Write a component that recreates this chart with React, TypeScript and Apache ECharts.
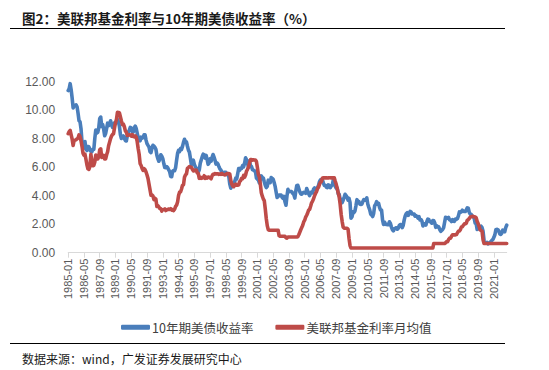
import React, { useEffect, useRef } from "react";
import * as echarts from "echarts";

// Month categories 1985-01 .. 2022-02
const startYear = 1985;
const endYear = 2022;
const endMonth = 2;
const months: string[] = [];
for (let y = startYear; y <= endYear; y++) {
  for (let m = 1; m <= 12; m++) {
    if (y === endYear && m > endMonth) break;
    months.push(`${y}-${m < 10 ? "0" + m : m}`);
  }
}

const titleText = "图2：美联邦基金利率与10年期美债收益率（%）";
const sourceText = "数据来源：wind，广发证券发展研究中心";
const seriesNames = ["10年期美债收益率", "美联邦基金利率月均值"];
const yTicks = [0, 2, 4, 6, 8, 10, 12];

// 10-year treasury yield, monthly
const tenYear: number[] = [
  11.38, 11.51, 11.86, 11.43, 10.85, 10.16, 10.31, 10.33, 10.37, 10.24, 9.78, 9.26,
  9.19, 8.70, 7.78, 7.30, 7.71, 7.80, 7.30, 7.17, 7.45, 7.43, 7.25, 7.11,
  7.08, 7.25, 7.25, 8.02, 8.61, 8.40, 8.45, 8.76, 9.42, 9.52, 8.86, 8.99,
  8.67, 8.21, 8.37, 8.72, 9.09, 8.92, 9.06, 9.26, 8.98, 8.80, 8.96, 9.11,
  9.09, 9.17, 9.36, 9.18, 8.86, 8.28, 8.02, 8.11, 8.19, 8.01, 7.87, 7.84,
  8.21, 8.47, 8.59, 8.79, 8.76, 8.48, 8.47, 8.75, 8.89, 8.72, 8.39, 8.08,
  8.09, 7.85, 8.11, 8.04, 8.07, 8.28, 8.27, 7.90, 7.65, 7.53, 7.42, 7.09,
  7.03, 7.34, 7.54, 7.48, 7.39, 7.26, 6.84, 6.59, 6.42, 6.59, 6.87, 6.77,
  6.60, 6.26, 5.98, 5.97, 6.04, 5.96, 5.81, 5.68, 5.36, 5.33, 5.72, 5.77,
  5.75, 5.97, 6.48, 6.97, 7.18, 7.10, 7.30, 7.24, 7.46, 7.74, 7.96, 7.81,
  7.78, 7.47, 7.20, 7.06, 6.63, 6.17, 6.28, 6.49, 6.20, 6.04, 5.93, 5.71,
  5.65, 5.81, 6.27, 6.51, 6.74, 6.91, 6.87, 6.64, 6.83, 6.53, 6.20, 6.30,
  6.58, 6.42, 6.69, 6.89, 6.71, 6.49, 6.22, 6.30, 6.21, 6.03, 5.88, 5.81,
  5.54, 5.57, 5.65, 5.64, 5.65, 5.50, 5.46, 5.34, 4.81, 4.53, 4.83, 4.65,
  4.72, 5.00, 5.23, 5.18, 5.54, 5.90, 5.79, 5.94, 5.92, 6.11, 6.03, 6.28,
  6.66, 6.52, 6.26, 5.99, 6.44, 6.10, 6.05, 5.83, 5.80, 5.74, 5.72, 5.24,
  5.16, 5.10, 4.89, 5.14, 5.39, 5.28, 5.24, 4.97, 4.73, 4.57, 4.65, 5.09,
  5.04, 4.91, 5.28, 5.21, 5.16, 4.93, 4.65, 4.26, 3.87, 3.94, 4.05, 4.03,
  4.05, 3.90, 3.81, 3.96, 3.57, 3.33, 3.98, 4.45, 4.27, 4.29, 4.30, 4.27,
  4.15, 4.08, 3.83, 4.35, 4.72, 4.73, 4.50, 4.28, 4.13, 4.10, 4.19, 4.23,
  4.22, 4.17, 4.50, 4.34, 4.14, 4.00, 4.18, 4.26, 4.20, 4.46, 4.54, 4.47,
  4.42, 4.57, 4.72, 4.99, 5.11, 5.11, 5.09, 4.88, 4.72, 4.73, 4.60, 4.56,
  4.76, 4.72, 4.56, 4.69, 4.75, 5.10, 5.00, 4.67, 4.52, 4.53, 4.15, 4.10,
  3.74, 3.74, 3.51, 3.68, 3.88, 4.10, 4.01, 3.89, 3.69, 3.81, 3.53, 2.42,
  2.52, 2.87, 2.82, 2.93, 3.29, 3.72, 3.56, 3.59, 3.40, 3.39, 3.40, 3.59,
  3.73, 3.69, 3.73, 3.85, 3.42, 3.20, 3.01, 2.70, 2.65, 2.54, 2.76, 3.29,
  3.39, 3.58, 3.41, 3.46, 3.17, 3.00, 3.00, 2.30, 1.98, 2.15, 2.01, 1.98,
  1.97, 1.97, 2.17, 2.05, 1.80, 1.62, 1.53, 1.68, 1.72, 1.75, 1.65, 1.72,
  1.91, 1.98, 1.96, 1.76, 1.93, 2.30, 2.58, 2.74, 2.81, 2.62, 2.72, 2.90,
  2.86, 2.71, 2.72, 2.71, 2.56, 2.60, 2.54, 2.42, 2.53, 2.30, 2.33, 2.21,
  1.88, 1.98, 2.04, 1.94, 2.20, 2.36, 2.32, 2.17, 2.17, 2.07, 2.26, 2.24,
  2.09, 1.78, 1.89, 1.81, 1.81, 1.64, 1.50, 1.56, 1.63, 1.76, 2.14, 2.49,
  2.43, 2.42, 2.48, 2.30, 2.30, 2.19, 2.32, 2.21, 2.20, 2.36, 2.35, 2.40,
  2.58, 2.86, 2.84, 2.87, 2.98, 2.91, 2.89, 2.89, 3.00, 3.15, 3.12, 2.83,
  2.71, 2.68, 2.57, 2.53, 2.40, 2.07, 2.06, 1.63, 1.70, 1.71, 1.81, 1.86,
  1.76, 1.50, 0.87, 0.66, 0.67, 0.73, 0.62, 0.65, 0.68, 0.79, 0.87, 0.93,
  1.08, 1.26, 1.61, 1.64, 1.62, 1.52, 1.32, 1.28, 1.37, 1.58, 1.56, 1.47,
  1.76, 1.93,
];

// Fed funds rate, monthly average
const fedFunds: number[] = [
  8.35, 8.50, 8.58, 8.27, 7.97, 7.53, 7.88, 7.90, 7.92, 7.99, 8.05, 8.27,
  8.14, 7.86, 7.48, 6.99, 6.85, 6.92, 6.56, 6.17, 5.89, 5.85, 6.04, 6.91,
  6.43, 6.10, 6.13, 6.37, 6.85, 6.73, 6.58, 6.73, 7.22, 7.29, 6.69, 6.77,
  6.83, 6.58, 6.58, 6.87, 7.09, 7.51, 7.75, 8.01, 8.19, 8.30, 8.35, 8.76,
  9.12, 9.36, 9.85, 9.84, 9.81, 9.53, 9.24, 8.99, 9.02, 8.84, 8.55, 8.45,
  8.23, 8.24, 8.28, 8.26, 8.18, 8.29, 8.15, 8.13, 8.20, 8.11, 7.81, 7.31,
  6.91, 6.25, 6.12, 5.91, 5.78, 5.90, 5.82, 5.66, 5.45, 5.21, 4.81, 4.43,
  4.03, 4.06, 3.98, 3.73, 3.82, 3.76, 3.25, 3.30, 3.22, 3.10, 3.09, 2.92,
  3.02, 3.03, 3.07, 2.96, 3.00, 3.04, 3.06, 3.03, 3.09, 2.99, 3.02, 2.96,
  3.05, 3.25, 3.34, 3.56, 4.01, 4.25, 4.26, 4.47, 4.73, 4.76, 5.29, 5.45,
  5.53, 5.92, 5.98, 6.05, 6.01, 6.00, 5.85, 5.74, 5.80, 5.76, 5.80, 5.60,
  5.56, 5.22, 5.31, 5.22, 5.24, 5.27, 5.40, 5.22, 5.30, 5.24, 5.31, 5.29,
  5.25, 5.19, 5.39, 5.51, 5.50, 5.56, 5.52, 5.54, 5.54, 5.50, 5.52, 5.50,
  5.56, 5.51, 5.49, 5.45, 5.49, 5.56, 5.54, 5.55, 5.51, 5.07, 4.83, 4.68,
  4.63, 4.76, 4.81, 4.74, 4.74, 4.76, 4.99, 5.07, 5.22, 5.20, 5.42, 5.30,
  5.45, 5.73, 5.85, 6.02, 6.27, 6.53, 6.54, 6.50, 6.52, 6.51, 6.51, 6.40,
  5.98, 5.49, 5.31, 4.80, 4.21, 3.97, 3.77, 3.65, 3.07, 2.40, 1.90, 1.62,
  1.58, 1.58, 1.58, 1.58, 1.58, 1.58, 1.58, 1.58, 1.58, 1.58, 1.20, 1.15,
  1.15, 1.15, 1.15, 1.15, 1.15, 1.05, 1.02, 1.10, 1.10, 1.10, 1.10, 1.10,
  1.10, 1.10, 1.10, 1.10, 1.10, 1.12, 1.26, 1.43, 1.61, 1.76, 1.93, 2.16,
  2.28, 2.50, 2.63, 2.79, 3.00, 3.04, 3.26, 3.50, 3.62, 3.78, 4.00, 4.16,
  4.29, 4.49, 4.59, 4.79, 4.94, 4.99, 5.24, 5.25, 5.25, 5.25, 5.25, 5.24,
  5.25, 5.26, 5.26, 5.25, 5.25, 5.25, 5.26, 5.02, 4.80, 4.50, 4.20, 3.90,
  3.40, 2.70, 2.20, 1.80, 1.72, 1.72, 1.72, 1.72, 1.65, 1.00, 0.50, 0.33,
  0.33, 0.33, 0.33, 0.33, 0.33, 0.33, 0.33, 0.33, 0.33, 0.33, 0.33, 0.33,
  0.33, 0.33, 0.33, 0.33, 0.33, 0.33, 0.33, 0.33, 0.33, 0.33, 0.33, 0.33,
  0.33, 0.33, 0.33, 0.33, 0.33, 0.33, 0.33, 0.33, 0.33, 0.33, 0.33, 0.33,
  0.33, 0.33, 0.33, 0.33, 0.33, 0.33, 0.33, 0.33, 0.33, 0.33, 0.33, 0.33,
  0.33, 0.33, 0.33, 0.33, 0.33, 0.33, 0.33, 0.33, 0.33, 0.33, 0.33, 0.33,
  0.33, 0.33, 0.33, 0.33, 0.33, 0.33, 0.33, 0.33, 0.33, 0.33, 0.33, 0.33,
  0.33, 0.33, 0.33, 0.33, 0.33, 0.33, 0.33, 0.33, 0.33, 0.33, 0.33, 0.65,
  0.65, 0.65, 0.65, 0.65, 0.65, 0.65, 0.65, 0.65, 0.65, 0.65, 0.65, 0.70,
  0.78, 0.78, 0.92, 1.02, 1.02, 1.15, 1.25, 1.25, 1.25, 1.25, 1.27, 1.40,
  1.50, 1.52, 1.62, 1.80, 1.82, 1.92, 2.02, 2.02, 2.08, 2.28, 2.32, 2.40,
  2.50, 2.52, 2.55, 2.55, 2.52, 2.50, 2.45, 2.20, 2.05, 1.85, 1.60, 1.55,
  1.50, 0.90, 0.65, 0.65, 0.65, 0.65, 0.65, 0.65, 0.65, 0.65, 0.65, 0.65,
  0.65, 0.65, 0.65, 0.65, 0.65, 0.65, 0.65, 0.65, 0.65, 0.65, 0.65, 0.65,
  0.65, 0.65,
];

const BLUE = "#4a7ebb";
const RED = "#be4b48";
const AXIS_GRAY = "#d9d9d9";
const LABEL_GRAY = "#595959";

export default function App() {
  const ref = useRef<HTMLDivElement>(null);
  useEffect(() => {
    if (!ref.current) return;
    const chart = echarts.init(ref.current, null, { renderer: "svg" });
    chart.setOption({
      animation: false,
      backgroundColor: "#ffffff",
      title: [
        {
          text: titleText,
          left: 17,
          top: 6,
          textStyle: {
            fontFamily: "Noto Sans CJK SC",
            fontSize: 13.5,
            fontWeight: "bold",
            color: "#1a1a1a",
          },
        },
        {
          text: sourceText,
          left: 17,
          top: 347,
          textStyle: {
            fontFamily: "Noto Sans CJK SC",
            fontSize: 12,
            fontWeight: "normal",
            color: "#1a1a1a",
          },
        },
      ],
      graphic: [
        {
          type: "line",
          shape: { x1: 10, y1: 28.5, x2: 505, y2: 28.5 },
          style: { stroke: "#000", lineWidth: 1.2 },
        },
        {
          type: "line",
          shape: { x1: 10, y1: 343.5, x2: 505, y2: 343.5 },
          style: { stroke: "#000", lineWidth: 1.2 },
        },
      ],
      legend: {
        data: seriesNames,
        left: 116,
        top: 316,
        icon: "roundRect",
        itemWidth: 29,
        itemHeight: 5,
        itemGap: 22,
        textStyle: {
          fontFamily: "Noto Sans CJK SC",
          fontSize: 12.5,
          color: "#404040",
          padding: [0, 0, 0, -3],
        },
      },
      grid: {
        left: 68.2,
        right: 42.3,
        top: 81.7,
        bottom: 370 - 252.7,
        containLabel: false,
      },
      xAxis: {
        type: "category",
        data: months,
        boundaryGap: false,
        axisLine: { lineStyle: { color: AXIS_GRAY, width: 1 } },
        axisTick: {
          show: true,
          interval: 15,
          length: 5,
          lineStyle: { color: AXIS_GRAY },
        },
        axisLabel: {
          interval: 15,
          rotate: 90,
          margin: 6,
          fontFamily: "Liberation Sans",
          fontSize: 11,
          color: LABEL_GRAY,
        },
        splitLine: { show: false },
      },
      yAxis: {
        type: "value",
        min: yTicks[0],
        max: yTicks[yTicks.length - 1],
        interval: 2,
        axisLine: { show: false },
        axisTick: { show: false },
        splitLine: { show: false },
        axisLabel: {
          margin: 13,
          fontFamily: "Liberation Sans",
          fontSize: 12,
          color: LABEL_GRAY,
          formatter: (v: number) => v.toFixed(2),
        },
      },
      series: [
        {
          name: seriesNames[0],
          type: "line",
          data: tenYear,
          showSymbol: false,
          symbol: "none",
          lineStyle: { color: BLUE, width: 3.6, cap: "round", join: "round" },
          itemStyle: { color: BLUE },
        },
        {
          name: seriesNames[1],
          type: "line",
          data: fedFunds,
          showSymbol: false,
          symbol: "none",
          lineStyle: { color: RED, width: 3.6, cap: "round", join: "round" },
          itemStyle: { color: RED },
        },
      ],
    });
    return () => chart.dispose();
  }, []);
  return (
    <div
      ref={ref}
      style={{ position: "absolute", left: 0, top: 0, width: 549, height: 370 }}
    />
  );
}
